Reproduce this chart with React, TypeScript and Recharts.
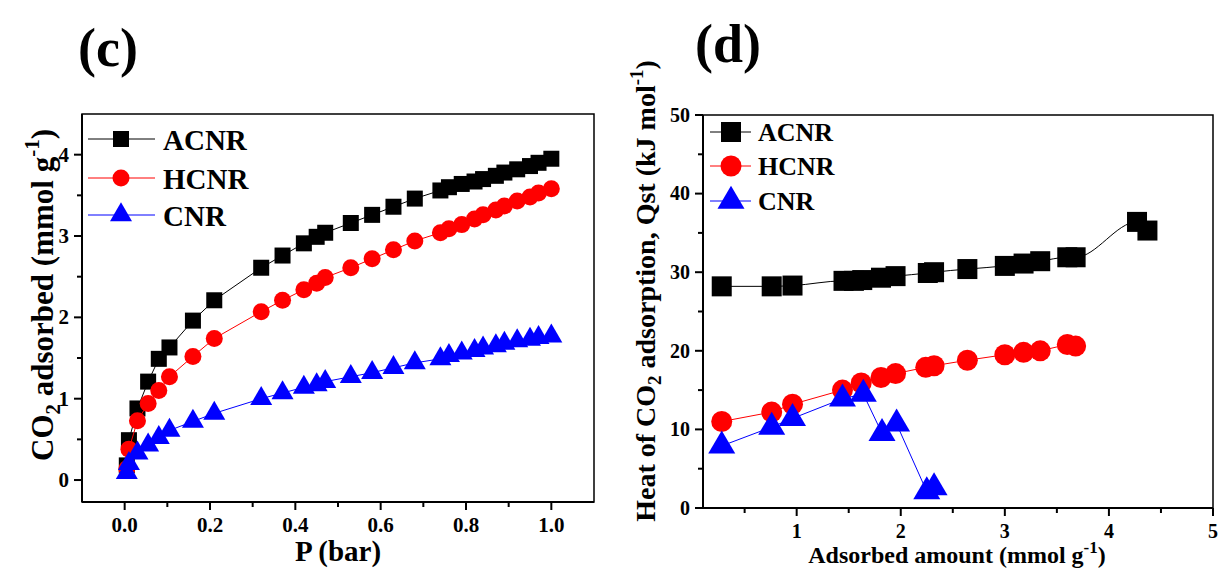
import React from 'react';
import { ScatterChart, Scatter, XAxis, YAxis, ReferenceArea, Legend } from 'recharts';

const SERIF = '"Liberation Serif", "Times New Roman", serif';

// ---------------------------------------------------------------------------
// (c) CO2 adsorption isotherms
// ---------------------------------------------------------------------------
const pressure = [0.005, 0.01, 0.03, 0.055, 0.08, 0.105, 0.16, 0.21, 0.32, 0.37, 0.42, 0.45, 0.47, 0.53, 0.58, 0.63, 0.68, 0.74, 0.76, 0.79, 0.82, 0.84, 0.87, 0.89, 0.92, 0.95, 0.97, 1.0];
const acnrUptake = [0.18, 0.49, 0.88, 1.21, 1.49, 1.63, 1.96, 2.21, 2.61, 2.76, 2.91, 2.99, 3.04, 3.16, 3.26, 3.36, 3.46, 3.56, 3.6, 3.64, 3.67, 3.7, 3.74, 3.78, 3.82, 3.86, 3.9, 3.95];
const hcnrUptake = [0.14, 0.38, 0.73, 0.94, 1.1, 1.27, 1.52, 1.74, 2.07, 2.21, 2.34, 2.42, 2.49, 2.61, 2.72, 2.83, 2.94, 3.04, 3.09, 3.14, 3.21, 3.26, 3.32, 3.37, 3.43, 3.48, 3.53, 3.58];
const cnrUptake = [0.09, 0.2, 0.33, 0.43, 0.52, 0.61, 0.72, 0.82, 1.0, 1.07, 1.14, 1.17, 1.21, 1.27, 1.32, 1.38, 1.44, 1.49, 1.53, 1.56, 1.59, 1.62, 1.65, 1.68, 1.71, 1.73, 1.75, 1.77];

const isoXTicks = [0, 0.1, 0.2, 0.3, 0.4, 0.5, 0.6, 0.7, 0.8, 0.9, 1.0];
const isoXLabels = [0, 0.2, 0.4, 0.6, 0.8, 1.0];
const isoYTicks = [0, 0.5, 1, 1.5, 2, 2.5, 3, 3.5, 4];
const isoYLabels = [0, 1, 2, 3, 4];

// ---------------------------------------------------------------------------
// (d) Isosteric heat of adsorption
// ---------------------------------------------------------------------------
const acnrLoading = [0.28, 0.76, 0.96, 1.45, 1.55, 1.63, 1.81, 1.95, 2.26, 2.32, 2.64, 3.0, 3.18, 3.34, 3.6, 3.68, 4.27, 4.37];
const acnrQst = [28.2, 28.2, 28.3, 28.9, 28.9, 29.0, 29.3, 29.5, 29.9, 30.0, 30.4, 30.8, 31.1, 31.4, 31.9, 31.9, 36.4, 35.3];
const hcnrLoading = [0.28, 0.76, 0.96, 1.44, 1.62, 1.81, 1.95, 2.24, 2.32, 2.64, 3.0, 3.18, 3.34, 3.6, 3.68];
const hcnrQst = [11.0, 12.2, 13.2, 15.0, 15.9, 16.6, 17.1, 17.9, 18.1, 18.8, 19.5, 19.8, 20.0, 20.8, 20.6];
const cnrLoading = [0.28, 0.76, 0.96, 1.44, 1.64, 1.82, 1.96, 2.25, 2.32];
const cnrQst = [7.9, 10.3, 11.4, 13.9, 14.5, 9.5, 10.7, 2.1, 2.6];

const qstXTicks = [0.5, 1, 1.5, 2, 2.5, 3, 3.5, 4, 4.5, 5];
const qstXLabels = [1, 2, 3, 4, 5];
const qstYTicks = [0, 5, 10, 15, 20, 25, 30, 35, 40, 45, 50];
const qstYLabels = [0, 10, 20, 30, 40, 50];

const seriesNames = ['ACNR', 'HCNR', 'CNR'];
const seriesColors = ['#000000', '#ff0000', '#0000ff'];

type MarkerKind = 'square' | 'circle' | 'triangle';
const seriesMarkers: MarkerKind[] = ['square', 'circle', 'triangle'];

type MarkerSizes = { square: number; circle: number; triW: number; triH: number };
const isoMarker: MarkerSizes = { square: 16, circle: 17, triW: 22, triH: 19 };
const qstMarker: MarkerSizes = { square: 20, circle: 21, triW: 27, triH: 23 };

const toPoints = (xs: number[], ys: number[]) => xs.map((x, i) => ({ x, y: ys[i] }));

const isoData = [toPoints(pressure, acnrUptake), toPoints(pressure, hcnrUptake), toPoints(pressure, cnrUptake)];
const qstData = [toPoints(acnrLoading, acnrQst), toPoints(hcnrLoading, hcnrQst), toPoints(cnrLoading, cnrQst)];

const Marker = ({ cx, cy, kind, sizes, fill }: { cx: number; cy: number; kind: MarkerKind; sizes: MarkerSizes; fill: string }) => {
  if (cx == null || cy == null) return null;
  if (kind === 'square') {
    const s = sizes.square;
    return <rect x={cx - s / 2} y={cy - s / 2} width={s} height={s} fill={fill} />;
  }
  if (kind === 'circle') return <circle cx={cx} cy={cy} r={sizes.circle / 2} fill={fill} />;
  const { triW: w, triH: h } = sizes;
  const pts = `${cx},${cy - (2 * h) / 3} ${cx - w / 2},${cy + h / 3} ${cx + w / 2},${cy + h / 3}`;
  return <polygon points={pts} fill={fill} />;
};

const isMajor = (v: number, majors: number[]) => majors.some((m) => Math.abs(m - v) < 1e-6);

// custom ticks: outward tick marks (long for labelled, short for minor)
const bottomTick = (majors: number[], fmt: (v: number) => string, fontSize: number, baseline: number) => (props: any) => {
  const { x, y, payload } = props;
  const major = isMajor(payload.value, majors);
  return (
    <g>
      <line x1={x} x2={x} y1={y} y2={y + (major ? 8 : 5)} stroke="#000" strokeWidth={2} />
      {major && (
        <text x={x} y={y + baseline} textAnchor="middle" fontFamily={SERIF} fontWeight="bold" fontSize={fontSize} fill="#000">
          {fmt(payload.value)}
        </text>
      )}
    </g>
  );
};

const leftTick = (majors: number[], fmt: (v: number) => string, fontSize: number, gap: number) => (props: any) => {
  const { x, y, payload } = props;
  const major = isMajor(payload.value, majors);
  return (
    <g>
      <line x1={x - (major ? 8 : 5)} x2={x} y1={y} y2={y} stroke="#000" strokeWidth={2} />
      {major && (
        <text x={x - gap} y={y + fontSize * 0.34} textAnchor="end" fontFamily={SERIF} fontWeight="bold" fontSize={fontSize} fill="#000">
          {fmt(payload.value)}
        </text>
      )}
    </g>
  );
};

type LegendLayout = { rows: number[]; lineX: [number, number]; markX: number; textX: number; fontSize: number; textDy: number; sizes: MarkerSizes; w: number; h: number };

const legendContent = (cfg: LegendLayout) => () => (
  <svg width={cfg.w} height={cfg.h} style={{ overflow: 'visible', display: 'block' }}>
    {seriesNames.map((name, i) => (
      <g key={name}>
        <line x1={cfg.lineX[0]} x2={cfg.lineX[1]} y1={cfg.rows[i]} y2={cfg.rows[i]} stroke={seriesColors[i]} strokeWidth={1} />
        <Marker cx={cfg.markX} cy={cfg.rows[i]} kind={seriesMarkers[i]} sizes={cfg.sizes} fill={seriesColors[i]} />
        <text x={cfg.textX} y={cfg.rows[i] + cfg.textDy} fontFamily={SERIF} fontWeight="bold" fontSize={cfg.fontSize} fill="#000">
          {name}
        </text>
      </g>
    ))}
  </svg>
);

const isoLegend: LegendLayout = { rows: [21, 60, 97], lineX: [4, 71], markX: 37, textX: 79, fontSize: 29, textDy: 11, sizes: isoMarker, w: 200, h: 120 };
const qstLegend: LegendLayout = { rows: [18, 52, 87], lineX: [4, 45], markX: 25, textX: 52, fontSize: 26, textDy: 9, sizes: qstMarker, w: 160, h: 110 };

const frameStyle = { fill: 'none', stroke: '#000', strokeWidth: 1.5 };

const IsothermChart = () => (
  <ScatterChart width={610} height={569} margin={{ top: 114, right: 16, bottom: 27, left: 32 }}>
    <XAxis type="number" dataKey="x" domain={[-0.1, 1.1]} ticks={isoXTicks} interval={0} height={40} tickSize={0} tickMargin={0} tickLine={false}
      axisLine={{ stroke: '#000', strokeWidth: 2 }} tick={bottomTick(isoXLabels, (v) => v.toFixed(1), 21, 30)} />
    <YAxis type="number" dataKey="y" domain={[-0.27, 4.5]} ticks={isoYTicks} interval={0} width={50} tickSize={0} tickMargin={0} tickLine={false}
      axisLine={{ stroke: '#000', strokeWidth: 2 }} tick={leftTick(isoYLabels, (v) => String(v), 21, 13)} />
    <ReferenceArea x1={-0.1} x2={1.1} y1={-0.27} y2={4.5} {...frameStyle} />
    {isoData.map((pts, i) => (
      <Scatter key={seriesNames[i]} name={seriesNames[i]} data={pts} fill={seriesColors[i]} isAnimationActive={false}
        line={{ stroke: seriesColors[i], strokeWidth: 1 }} lineType="joint" lineJointType="linear"
        shape={(p: any) => <Marker cx={p.cx} cy={p.cy} kind={seriesMarkers[i]} sizes={isoMarker} fill={seriesColors[i]} />} />
    ))}
    <Legend layout="vertical" verticalAlign="middle" align="center" content={legendContent(isoLegend)}
      wrapperStyle={{ left: 84, top: 118, width: isoLegend.w, height: isoLegend.h }} />
  </ScatterChart>
);

const QstChart = () => (
  <ScatterChart width={609} height={569} margin={{ top: 115, right: 6, bottom: 21, left: 43 }}>
    <XAxis type="number" dataKey="x" domain={[0.1, 5]} ticks={qstXTicks} interval={0} height={40} tickSize={0} tickMargin={0} tickLine={false}
      axisLine={{ stroke: '#000', strokeWidth: 2 }} tick={bottomTick(qstXLabels, (v) => String(v), 20, 30)} />
    <YAxis type="number" dataKey="y" domain={[0, 50]} ticks={qstYTicks} interval={0} width={50} tickSize={0} tickMargin={0} tickLine={false}
      axisLine={{ stroke: '#000', strokeWidth: 2 }} tick={leftTick(qstYLabels, (v) => String(v), 20, 13)} />
    <ReferenceArea x1={0.1} x2={5} y1={0} y2={50} {...frameStyle} />
    {qstData.map((pts, i) => (
      <Scatter key={seriesNames[i]} name={seriesNames[i]} data={pts} fill={seriesColors[i]} isAnimationActive={false}
        line={{ stroke: seriesColors[i], strokeWidth: 1 }} lineType="joint" lineJointType={i === 0 ? 'monotoneX' : 'linear'}
        shape={(p: any) => <Marker cx={p.cx} cy={p.cy} kind={seriesMarkers[i]} sizes={qstMarker} fill={seriesColors[i]} />} />
    ))}
    <Legend layout="vertical" verticalAlign="middle" align="center" content={legendContent(qstLegend)}
      wrapperStyle={{ left: 96, top: 114, width: qstLegend.w, height: qstLegend.h }} />
  </ScatterChart>
);

const txt = { fontFamily: SERIF, fontWeight: 'bold' as const, fill: '#000' };

export default function App() {
  return (
    <div style={{ position: 'absolute', left: 0, top: 0, width: 1219, height: 569, background: '#fff', overflow: 'hidden' }}>
      <div style={{ position: 'absolute', left: 0, top: 0 }}>
        <IsothermChart />
      </div>
      <div style={{ position: 'absolute', left: 610, top: 0 }}>
        <QstChart />
      </div>
      <svg width={1219} height={569} style={{ position: 'absolute', left: 0, top: 0, pointerEvents: 'none' }}>
        <text x={78} y={66} fontSize={54} {...txt}>(c)</text>
        <text x={695} y={62} fontSize={54} {...txt}>(d)</text>

        <text x={338} y={561} fontSize={29} textAnchor="middle" {...txt}>P (bar)</text>
        <text transform="translate(53,295) rotate(-90)" textAnchor="middle" fontSize={31} {...txt}>
          <tspan>CO</tspan>
          <tspan fontSize={21} dy={7}>2</tspan>
          <tspan dy={-7}> adsorbed (mmol g</tspan>
          <tspan fontSize={21} dy={-14}>-1</tspan>
          <tspan dy={14}>)</tspan>
        </text>

        <text x={957} y={563} fontSize={24} textAnchor="middle" {...txt}>
          <tspan>Adsorbed amount (mmol g</tspan>
          <tspan fontSize={17} dy={-10}>-1</tspan>
          <tspan dy={10}>)</tspan>
        </text>
        <text transform="translate(655,291) rotate(-90)" textAnchor="middle" fontSize={28} {...txt}>
          <tspan>Heat of CO</tspan>
          <tspan fontSize={19} dy={6}>2</tspan>
          <tspan dy={-6}> adsorption, Qst (kJ mol</tspan>
          <tspan fontSize={19} dy={-12}>-1</tspan>
          <tspan dy={12}>)</tspan>
        </text>
      </svg>
    </div>
  );
}
